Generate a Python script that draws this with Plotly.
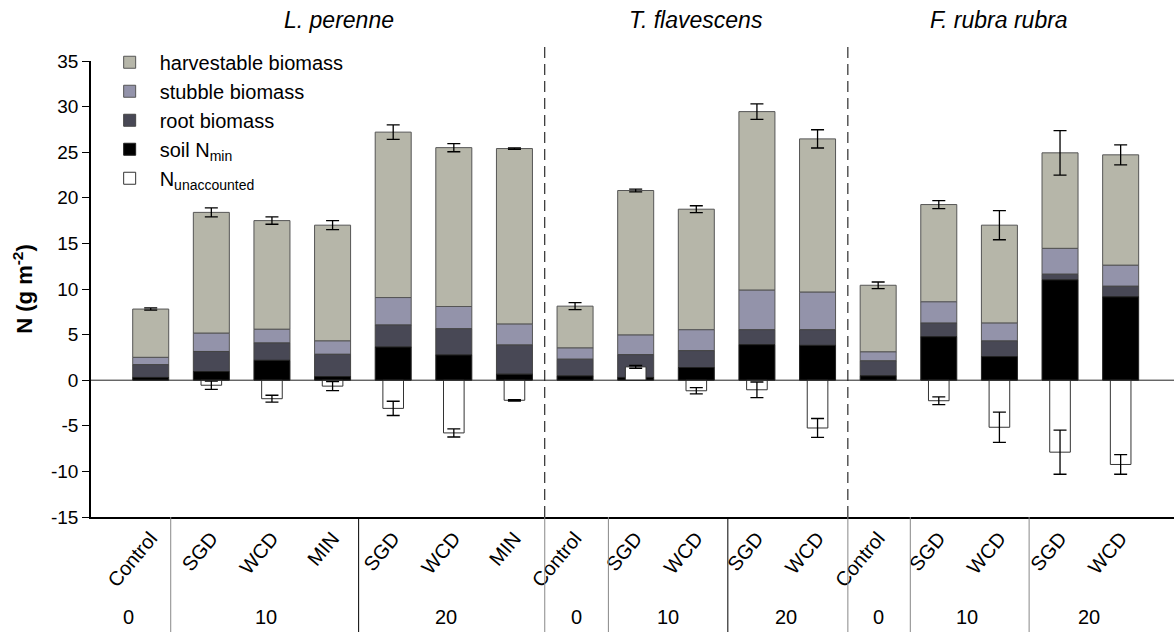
import numpy as np
import plotly.graph_objects as go

# Données (N en g m-2)

species = ["L. perenne", "T. flavescens", "F. rubra rubra"]
species_pos = [3.1, 9.0, 14.0]

treatments = ["Control", "SGD", "WCD", "MIN", "SGD", "WCD", "MIN",
              "Control", "SGD", "WCD", "SGD", "WCD",
              "Control", "SGD", "WCD", "SGD", "WCD"]

dose_labels = ["0", "10", "20", "0", "10", "20", "0", "10", "20"]
dose_pos = [-0.36, 1.90, 4.87, 7.02, 8.54, 10.48, 12.0, 13.46, 15.47]

y_ticks = [-15, -10, -5, 0, 5, 10, 15, 20, 25, 30, 35]

soil_nmin = [0.3, 0.95, 2.18, 0.4, 3.64, 2.77, 0.66,
             0.47, 0.3, 1.39, 3.9, 3.82,
             0.48, 4.77, 2.59, 11.0, 9.14]
root = [1.4, 2.2, 1.9, 2.44, 2.41, 2.87, 3.2,
        1.83, 2.5, 1.85, 1.63, 1.71,
        1.64, 1.49, 1.71, 0.62, 1.16]
stubble = [0.8, 2.0, 1.5, 1.46, 3.01, 2.44, 2.29,
           1.23, 2.15, 2.29, 4.34, 4.12,
           0.98, 2.33, 1.96, 2.83, 2.3]
harvest = [5.3, 13.25, 11.92, 12.7, 18.14, 17.42, 19.25,
           4.59, 15.85, 13.22, 19.58, 16.81,
           7.31, 10.67, 10.74, 10.48, 12.11]
total_err = [0.12, 0.5, 0.4, 0.5, 0.8, 0.45, 0.08,
             0.38, 0.15, 0.38, 0.84, 1.0,
             0.36, 0.44, 1.6, 2.44, 1.1]

unaccounted = [None, -0.55, -2.03, -0.65, -3.09, -5.78, -2.2,
               None, 1.46, -1.16, -1.05, -5.24,
               None, -2.25, -5.16, -7.89, -9.24]
unacc_err = [None, 0.45, 0.38, 0.5, 0.78, 0.45, 0.08,
             None, 0.15, 0.35, 0.85, 1.04,
             None, 0.42, 1.65, 2.42, 1.07]

x = np.arange(len(treatments))

# bases des barres empilées
b_root = np.array(soil_nmin)
b_stub = b_root + np.array(root)
b_harv = b_stub + np.array(stubble)
total = b_harv + np.array(harvest)

couleurs = {
    "harvest": "#b6b6a9",
    "stubble": "#9393aa",
    "root": "#484855",
    "soil": "#000000",
}

fig = go.Figure()

fig.add_trace(go.Bar(x=x, y=harvest, base=b_harv, width=0.594,
                     name="harvestable biomass",
                     marker=dict(color=couleurs["harvest"], line=dict(color="#555555", width=1))))
fig.add_trace(go.Bar(x=x, y=stubble, base=b_stub, width=0.594,
                     name="stubble biomass",
                     marker=dict(color=couleurs["stubble"], line=dict(color="#555555", width=1))))
fig.add_trace(go.Bar(x=x, y=root, base=b_root, width=0.594,
                     name="root biomass",
                     marker=dict(color=couleurs["root"], line=dict(color="#444444", width=1))))
fig.add_trace(go.Bar(x=x, y=soil_nmin, width=0.594,
                     name="soil N<sub>min</sub>",
                     marker=dict(color=couleurs["soil"], line=dict(color="#222222", width=1))))
fig.add_trace(go.Bar(x=x, y=unaccounted, width=0.34,
                     name="N<sub>unaccounted</sub>",
                     marker=dict(color="white", line=dict(color="#333333", width=1))))

# barres d'erreur
fig.add_trace(go.Scatter(x=x, y=total, mode="markers", marker=dict(size=1, opacity=0),
                         error_y=dict(type="data", array=total_err, color="black",
                                      thickness=1.3, width=6.5),
                         showlegend=False, hoverinfo="skip"))
fig.add_trace(go.Scatter(x=x, y=unaccounted, mode="markers", marker=dict(size=1, opacity=0),
                         error_y=dict(type="data", array=unacc_err, color="black",
                                      thickness=1.3, width=6.5),
                         showlegend=False, hoverinfo="skip"))

# lignes de séparation
for xs in [6.5, 11.5]:
    fig.add_shape(type="line", xref="x", yref="paper", x0=xs, x1=xs, y0=0, y1=1.035,
                  line=dict(color="black", width=1, dash="11px,6px"))
    fig.add_shape(type="line", xref="x", yref="paper", x0=xs, x1=xs, y0=-0.26, y1=0,
                  line=dict(color="#888888", width=1))
for xs in [0.33, 7.55, 12.53, 14.49]:
    fig.add_shape(type="line", xref="x", yref="paper", x0=xs, x1=xs, y0=-0.26, y1=0,
                  line=dict(color="#888888", width=1))
for xs in [3.43, 9.52]:
    fig.add_shape(type="line", xref="x", yref="paper", x0=xs, x1=xs, y0=-0.26, y1=0,
                  line=dict(color="black", width=1))

# ligne du zéro
fig.add_hline(y=0, line=dict(color="#222222", width=1))

for lab, xp in zip(dose_labels, dose_pos):
    fig.add_annotation(x=xp, y=-0.219, xref="x", yref="paper", text=lab,
                       showarrow=False, yanchor="middle", font=dict(size=20, color="black"))

for sp, xp in zip(species, species_pos):
    fig.add_annotation(x=xp, y=1.09, xref="x", yref="paper", text="<i>" + sp + "</i>",
                       showarrow=False, yanchor="middle",
                       font=dict(size=23, color="black"))

fig.update_layout(
    width=1174, height=632,
    barmode="overlay",
    plot_bgcolor="white", paper_bgcolor="white",
    margin=dict(l=91, r=0, t=61, b=115),
    font=dict(family="Liberation Sans, Arial, sans-serif", color="black", size=19),
    legend=dict(x=0.008, y=1.04, xanchor="left", yanchor="top", traceorder="normal",
                font=dict(size=20), bgcolor="rgba(0,0,0,0)", tracegroupgap=0,
                itemwidth=50),
    showlegend=True,
)

fig.update_xaxes(range=[-0.985, 16.88], tickvals=x, ticktext=treatments, tickangle=-50,
                 showline=True, linecolor="black", linewidth=1.5, ticks="",
                 showgrid=False, zeroline=False, tickfont=dict(size=20))
fig.update_yaxes(range=[-15, 35], tickvals=y_ticks, ticktext=[str(v) for v in y_ticks],
                 ticks="outside", ticklen=7, tickcolor="black",
                 showline=True, linecolor="black", linewidth=1.5, showgrid=False,
                 zeroline=False,
                 title=dict(text="<b>N (g m<sup>-2</sup>)</b>", font=dict(size=22), standoff=12))

# marge du body à zéro pour que la figure occupe toute la fenêtre
fig.write_html("out.html", config={"displayModeBar": False},
               post_script="document.body.style.margin='0';")
